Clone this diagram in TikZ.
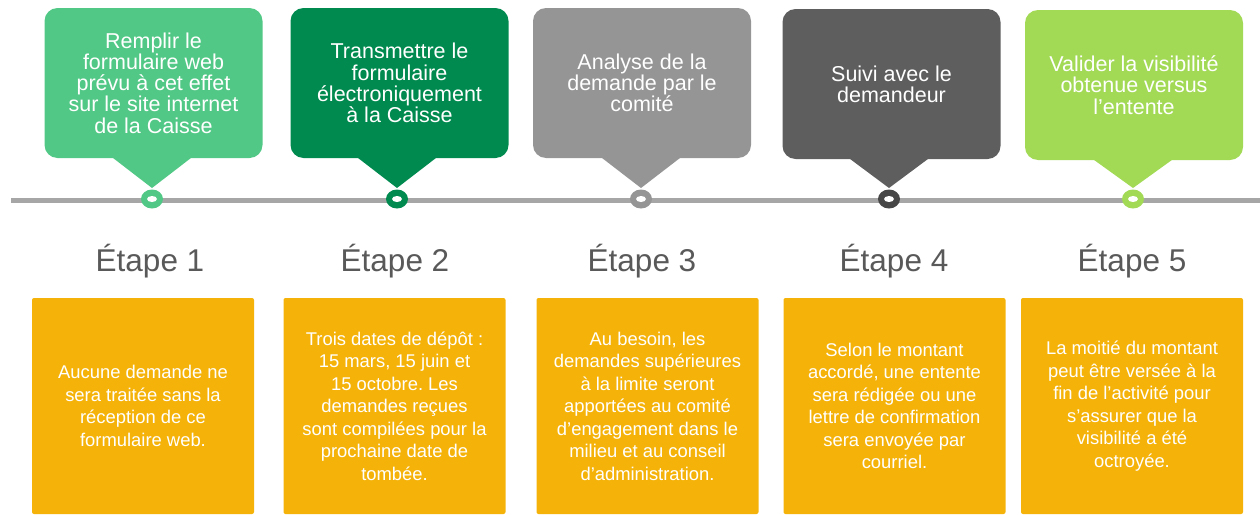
\documentclass[tikz,border=0pt]{standalone}
\usepackage{fontspec}
\setmainfont{Liberation Sans}
\usetikzlibrary{shapes.geometric,calc}
\frenchspacing
\definecolor{cA}{HTML}{52C886}
\definecolor{cB}{HTML}{008A4F}
\definecolor{cC}{HTML}{959595}
\definecolor{cD}{HTML}{5E5E5E}
\definecolor{cE}{HTML}{A2D955}
\definecolor{dD}{HTML}{474747}
\definecolor{orng}{HTML}{F5B30A}
\definecolor{tline}{HTML}{A6A6A6}
\definecolor{lbl}{HTML}{595959}
\tikzset{
  callout/.style={rectangle, rounded corners=13pt, minimum width=218pt, minimum height=150pt,
    inner sep=0pt, fill=#1, text=white, align=center, font=\fontsize{21.5}{21.3}\selectfont},
  dot/.style={ellipse, minimum width=22pt, minimum height=19pt, inner sep=0pt, fill=#1},
  steplabel/.style={anchor=base, text=lbl, font=\fontsize{31.5}{36}\selectfont},
  infobox/.style={rectangle, rounded corners=2pt, minimum width=222pt, minimum height=216pt,
    inner sep=0pt, fill=orng, text=white, align=center, font=\fontsize{18.4}{22.5}\selectfont},
}
\begin{document}
\begin{tikzpicture}[x=1pt,y=-1pt]
\useasboundingbox (0,0) rectangle (1260,514);
% timeline
\coordinate (ls) at (11,200.5);
\coordinate (le) at (1260,200.5);
\draw[line width=5pt, tline] (ls) -- (le);
% callouts
\node[callout=cA] (c1) at (153.5,83) {Remplir le\\formulaire web\\prévu à cet effet\\sur le site internet\\de la Caisse};
\node[callout=cB] (c2) at (399.5,83) {Transmettre le\\formulaire\\électroniquement\\à la Caisse};
\node[callout=cC] (c3) at (642,83) {Analyse de la\\demande par le\\comité};
\node[callout=cD] (c4) at (891.5,84) {Suivi avec le\\demandeur};
\node[callout=cE] (c5) at (1134,85) {Valider la visibilité\\obtenue versus\\l’entente};
% dots
\node[dot=cA] (d1) at (152,199) {};
\node[dot=cB] (d2) at (397,199) {};
\node[dot=cC] (d3) at (641,199) {};
\node[dot=dD] (d4) at (889,199) {};
\node[dot=cE] (d5) at (1133,199) {};
\foreach \i/\col in {1/cA,2/cB,3/cC,4/cD,5/cE}{
  \coordinate (t\i) at (c\i.south -| d\i);
  \fill[\col] ($(t\i)+(-40,-1)$) -- ($(d\i.center)+(0,-11)$) -- ($(t\i)+(40,-1)$) -- cycle;
  \fill[white] (d\i.center) ellipse [x radius=5pt, y radius=3pt];
}
% labels
\node[steplabel] (e1) at (150,271) {Étape 1};
\node[steplabel] (e2) at (395,271) {Étape 2};
\node[steplabel] (e3) at (642,271) {Étape 3};
\node[steplabel] (e4) at (894,271) {Étape 4};
\node[steplabel] (e5) at (1132,271) {Étape 5};
% info boxes
\node[infobox] (b1) at (143,406) {Aucune demande ne\\sera traitée sans la\\réception de ce\\formulaire web.};
\node[infobox] (b2) at (394.5,406) {Trois dates de dépôt :\\15 mars, 15 juin et\\15 octobre. Les\\demandes reçues\\sont compilées pour la\\prochaine date de\\tombée.};
\node[infobox] (b3) at (647.5,406) {Au besoin, les\\demandes supérieures\\à la limite seront\\apportées au comité\\d’engagement dans le\\milieu et au conseil\\d’administration.};
\node[infobox] (b4) at (894.5,406) {Selon le montant\\accordé, une entente\\sera rédigée ou une\\lettre de confirmation\\sera envoyée par\\courriel.};
\node[infobox] (b5) at (1132,406) {La moitié du montant\\peut être versée à la\\fin de l’activité pour\\s’assurer que la\\visibilité a été\\octroyée.};
\end{tikzpicture}
\end{document}
